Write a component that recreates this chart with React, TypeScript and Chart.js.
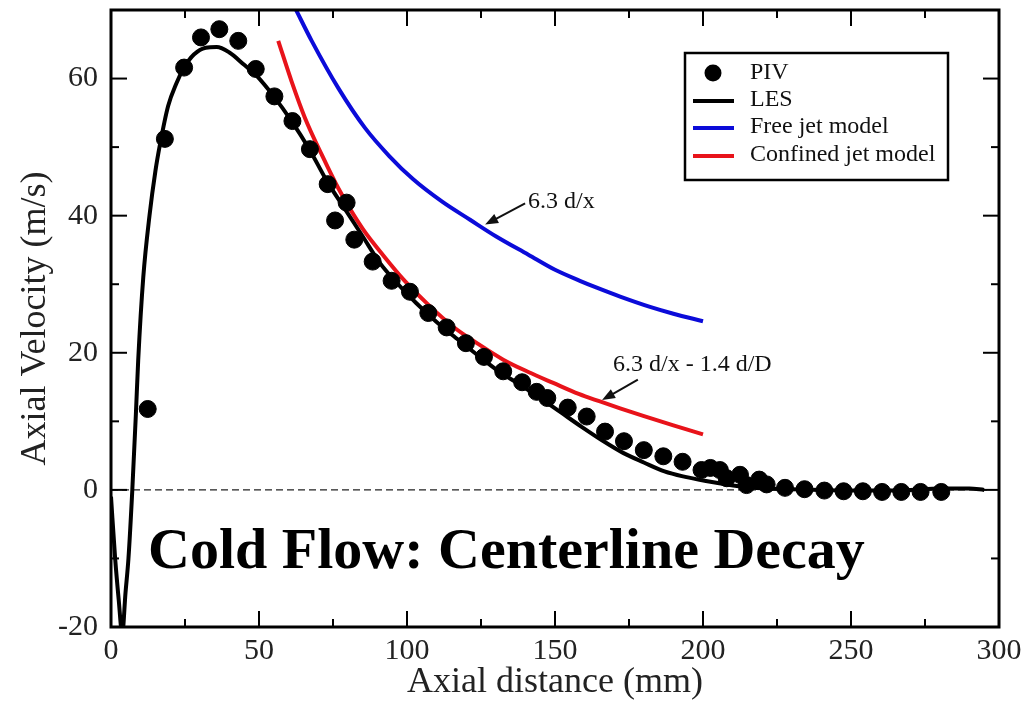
import React, { useEffect, useRef } from "react";
import { Chart, registerables } from "chart.js";

Chart.register(...registerables);

// LES centreline axial velocity (mm, m/s)
const lesX = [0, 1.4, 2.6, 3.8, 4.9, 5.9, 7.2, 8.4, 9.2, 10.9, 13, 15, 16.6, 19.3, 22, 24.7, 28, 32, 35.7, 40, 45, 49, 55, 61, 67, 73, 79, 85, 91, 97, 103, 110, 117, 124, 131, 138, 145, 152, 159, 166, 173, 180, 187, 194, 201, 208, 215, 222, 230, 240, 250, 260, 270, 280, 290, 295];
const lesY = [-1, -10, -16, -21, -15, -10, 0, 11, 19, 31, 40, 46.5, 50.5, 56, 59.2, 61.6, 63.5, 64.5, 64.6, 63.8, 62, 60.5, 57.4, 53.8, 49.7, 45, 41, 37, 33, 30, 27.3, 24.5, 22, 19.6, 17.3, 15.4, 13.4, 11.3, 9.2, 7.2, 5.4, 4.0, 2.7, 1.9, 1.3, 0.8, 0.4, 0.2, 0.1, 0, -0.1, -0.1, 0, 0.2, 0.2, 0];

// PIV measurements
const pivX = [12.4, 18.2, 24.7, 30.4, 36.6, 43.0, 48.9, 55.2, 61.3, 67.2, 73.2, 75.7, 79.6, 82.2, 88.4, 94.8, 101.0, 107.2, 113.4, 119.9, 126.0, 132.5, 138.9, 143.8, 147.4, 154.3, 160.7, 166.9, 173.3, 180.0, 186.6, 193.1, 199.5, 202.5, 205.7, 208.0, 212.5, 214.7, 219.0, 221.5, 227.7, 234.3, 241.0, 247.5, 254.0, 260.5, 267.0, 273.5, 280.5];
const pivY = [11.8, 51.2, 61.6, 66.0, 67.2, 65.5, 61.4, 57.4, 53.8, 49.7, 44.6, 39.3, 41.9, 36.5, 33.3, 30.5, 28.9, 25.8, 23.7, 21.4, 19.4, 17.3, 15.7, 14.3, 13.4, 12.0, 10.7, 8.5, 7.1, 5.8, 4.9, 4.1, 2.9, 3.2, 2.9, 1.7, 2.2, 0.7, 1.5, 0.8, 0.3, 0.1, -0.1, -0.2, -0.2, -0.3, -0.3, -0.3, -0.3];

// Free jet model (6.3 d/x)
const freeX = [62.3, 67.8, 76.8, 85.8, 94, 102.1, 112, 121.3, 130, 141, 150, 158.4, 164.1, 172, 182.1, 190, 200];
const freeY = [70.2, 65.5, 58.6, 52.8, 48.7, 45.3, 42.0, 39.4, 37.0, 34.3, 32.1, 30.5, 29.5, 28.2, 26.7, 25.7, 24.6];

// Confined jet model (6.3 d/x - 1.4 d/D)
const confX = [56.5, 61, 65.5, 71.2, 76.8, 85, 92, 99, 107, 115.6, 124, 132.5, 141, 149.4, 158, 165.2, 172, 179.8, 190, 200];
const confY = [65.5, 59.6, 54.3, 48.9, 44.0, 38.1, 34.2, 30.6, 27.1, 23.8, 21.3, 19.0, 17.2, 15.6, 14.0, 12.9, 11.9, 10.8, 9.4, 8.1];

// Zero reference line
const zeroX = [0, 297];
const zeroY = [0, 0];

const xTickValues = [0, 50, 100, 150, 200, 250, 300];
const xMinorTicks = [25, 75, 125, 175, 225, 275];
const yTickValues = [-20, 0, 20, 40, 60];
const yMinorTicks = [-10, 10, 30, 50];

const SERIF = '"Liberation Serif", "Times New Roman", serif';
const BLUE = "#0b0bd9";
const RED = "#e8131a";

const pts = (xs: number[], ys: number[]) => xs.map((x, i) => ({ x, y: ys[i] }));

function arrow(ctx: CanvasRenderingContext2D, x1: number, y1: number, x2: number, y2: number) {
  const ang = Math.atan2(y2 - y1, x2 - x1);
  const len = 13;
  const half = 5;
  ctx.beginPath();
  ctx.moveTo(x1, y1);
  ctx.lineTo(x2 - Math.cos(ang) * len * 0.7, y2 - Math.sin(ang) * len * 0.7);
  ctx.stroke();
  ctx.beginPath();
  ctx.moveTo(x2, y2);
  ctx.lineTo(x2 - Math.cos(ang) * len - Math.sin(ang) * half, y2 - Math.sin(ang) * len + Math.cos(ang) * half);
  ctx.lineTo(x2 - Math.cos(ang) * len + Math.sin(ang) * half, y2 - Math.sin(ang) * len - Math.cos(ang) * half);
  ctx.closePath();
  ctx.fill();
}

// Frame with inward major/minor ticks on all four sides
const framePlugin = {
  id: "frameTicks",
  afterDatasetsDraw(chart: any) {
    const { ctx, chartArea: a, scales } = chart;
    const sx = scales.x;
    const sy = scales.y;
    const seg = (x1: number, y1: number, x2: number, y2: number) => {
      ctx.beginPath();
      ctx.moveTo(x1, y1);
      ctx.lineTo(x2, y2);
      ctx.stroke();
    };
    ctx.save();
    ctx.strokeStyle = "#000";
    ctx.lineWidth = 2;
    const major = 16;
    const minor = 8;
    xTickValues.forEach((v) => {
      const p = sx.getPixelForValue(v);
      seg(p, a.bottom, p, a.bottom - major);
      seg(p, a.top, p, a.top + major);
    });
    xMinorTicks.forEach((v) => {
      const p = sx.getPixelForValue(v);
      seg(p, a.bottom, p, a.bottom - minor);
      seg(p, a.top, p, a.top + minor);
    });
    yTickValues.forEach((v) => {
      const p = sy.getPixelForValue(v);
      seg(a.left, p, a.left + major, p);
      seg(a.right, p, a.right - major, p);
    });
    yMinorTicks.forEach((v) => {
      const p = sy.getPixelForValue(v);
      seg(a.left, p, a.left + minor, p);
      seg(a.right, p, a.right - minor, p);
    });
    ctx.lineWidth = 3;
    ctx.strokeRect(a.left, a.top, a.right - a.left, a.bottom - a.top);
    ctx.restore();
  },
};

// Model labels, arrows, caption and legend box
const notesPlugin = {
  id: "notes",
  afterDraw(chart: any) {
    const { ctx, chartArea: a, scales } = chart;
    const X = (v: number) => scales.x.getPixelForValue(v);
    const Y = (v: number) => scales.y.getPixelForValue(v);
    ctx.save();
    ctx.fillStyle = "#111";
    ctx.strokeStyle = "#111";
    ctx.lineWidth = 2;
    ctx.font = `24px ${SERIF}`;
    ctx.textBaseline = "middle";
    ctx.textAlign = "left";
    ctx.fillText("6.3 d/x", X(140.9), Y(42.0));
    arrow(ctx, X(139.9), Y(41.8), X(126.4), Y(38.7));
    ctx.fillText("6.3 d/x - 1.4 d/D", X(169.6), Y(18.2));
    arrow(ctx, X(178.0), Y(16.1), X(165.9), Y(13.1));

    ctx.fillStyle = "#000";
    ctx.font = `bold 58px ${SERIF}`;
    ctx.textBaseline = "alphabetic";
    ctx.fillText("Cold Flow: Centerline Decay", X(12.5), Y(-11.4));

    // legend
    const bx = a.right - 314;
    const by = a.top + 43;
    const bw = 263;
    const bh = 127;
    ctx.fillStyle = "#fff";
    ctx.fillRect(bx, by, bw, bh);
    ctx.strokeStyle = "#000";
    ctx.lineWidth = 2.5;
    ctx.strokeRect(bx, by, bw, bh);
    const rows = [20, 47, 74, 102];
    const items = chart.data.datasets.filter((d: any) => d.label);
    items.forEach((d: any, i: number) => {
      const ry = by + rows[i];
      if (d.showLine) {
        ctx.strokeStyle = d.borderColor;
        ctx.lineWidth = 4;
        ctx.beginPath();
        ctx.moveTo(bx + 8, ry + 1);
        ctx.lineTo(bx + 49, ry + 1);
        ctx.stroke();
      } else {
        ctx.fillStyle = d.backgroundColor;
        ctx.beginPath();
        ctx.arc(bx + 28, ry, 8.5, 0, Math.PI * 2);
        ctx.fill();
      }
      ctx.fillStyle = "#111";
      ctx.font = `24px ${SERIF}`;
      ctx.textBaseline = "middle";
      ctx.fillText(d.label, bx + 65, ry);
    });
    ctx.restore();
  },
};

export default function App() {
  const ref = useRef<HTMLCanvasElement | null>(null);

  useEffect(() => {
    if (!ref.current) return;
    const lineSet = (label: string, xs: number[], ys: number[], color: string, width: number) => ({
      label,
      data: pts(xs, ys),
      showLine: true,
      borderColor: color,
      backgroundColor: color,
      borderWidth: width,
      pointRadius: 0,
      pointHoverRadius: 0,
      cubicInterpolationMode: "monotone" as const,
      clip: 0,
    });
    const chart = new Chart(ref.current, {
      type: "scatter",
      data: {
        datasets: [
          {
            ...lineSet("", zeroX, zeroY, "#222", 1.2),
            borderDash: [7, 4],
            order: 5,
          },
          {
            label: "PIV",
            data: pts(pivX, pivY),
            showLine: false,
            pointRadius: 8.5,
            pointBackgroundColor: "#000",
            backgroundColor: "#000",
            pointBorderColor: "#000",
            pointBorderWidth: 1,
            order: 0,
          },
          { ...lineSet("LES", lesX, lesY, "#000", 4), order: 1 },
          { ...lineSet("Free jet model", freeX, freeY, BLUE, 4), order: 2 },
          { ...lineSet("Confined jet model", confX, confY, RED, 4), order: 2 },
        ],
      },
      options: {
        responsive: false,
        animation: false,
        events: [],
        layout: { padding: { left: 0, top: 10, right: 35, bottom: 0 } },
        plugins: {
          legend: { display: false },
          tooltip: { enabled: false },
          title: { display: false },
        },
        scales: {
          x: {
            type: "linear",
            min: 0,
            max: 300,
            afterBuildTicks: (s: any) => {
              s.ticks = xTickValues.map((v) => ({ value: v }));
            },
            afterFit: (s: any) => {
              s.height = 74;
              s.paddingLeft = 0;
              s.paddingRight = 0;
            },
            grid: { display: false, drawTicks: false },
            border: { display: false },
            ticks: {
              padding: 6,
              color: "#222",
              font: { family: SERIF, size: 30 },
              maxRotation: 0,
              autoSkip: false,
              callback: (v: any) => String(v),
            },
            title: {
              display: true,
              text: "Axial distance (mm)",
              color: "#222",
              font: { family: SERIF, size: 36, lineHeight: 1 },
              padding: { top: 0, bottom: 0 },
            },
          },
          y: {
            type: "linear",
            min: -20,
            max: 70,
            afterBuildTicks: (s: any) => {
              s.ticks = yTickValues.map((v) => ({ value: v }));
            },
            afterFit: (s: any) => {
              s.width = 111;
              s.paddingTop = 0;
              s.paddingBottom = 0;
            },
            grid: { display: false, drawTicks: false },
            border: { display: false },
            ticks: {
              padding: 13,
              color: "#222",
              font: { family: SERIF, size: 30 },
              autoSkip: false,
              callback: (v: any) => String(v),
            },
            title: {
              display: true,
              text: "Axial Velocity (m/s)",
              color: "#222",
              font: { family: SERIF, size: 36, lineHeight: 1 },
              padding: { top: 18, bottom: 0 },
            },
          },
        },
      },
      plugins: [framePlugin, notesPlugin],
    });
    return () => chart.destroy();
  }, []);

  return (
    <div style={{ position: "fixed", left: 0, top: 0, width: 1034, height: 701, background: "#fff" }}>
      <canvas ref={ref} width={1034} height={701} style={{ display: "block" }} />
    </div>
  );
}
